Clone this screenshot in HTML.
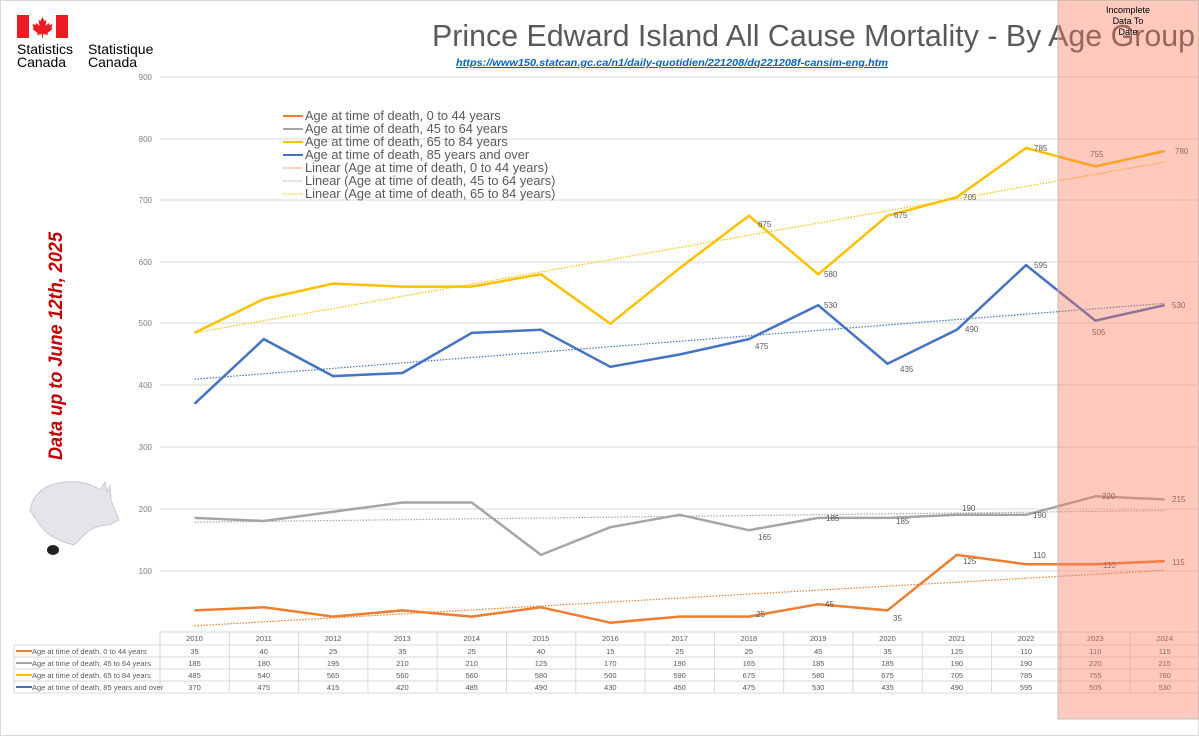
<!DOCTYPE html>
<html><head><meta charset="utf-8"><style>
html,body{margin:0;padding:0;background:#fff}
svg{display:block}
text{font-family:"Liberation Sans",sans-serif}
</style></head><body>
<svg width="1199" height="736" viewBox="0 0 1199 736" xmlns="http://www.w3.org/2000/svg">
<rect x="0.5" y="0.5" width="1198" height="735" fill="#fff" stroke="#d9d9d9"/>
<rect x="17" y="15" width="12" height="23" fill="#ed1c24"/>
<rect x="56" y="15" width="12" height="23" fill="#ed1c24"/>
<path d="M42.5 17 l2 4 2-1 -1 6 3-3 1 2 3-1 -1 4 1 1 -5 4 0.5 2 -5-1 v4 h-1 v-4 l-5 1 0.5-2 -5-4 1-1 -1-4 3 1 1-2 3 3 -1-6 2 1z" fill="#ed1c24"/>
<text x="17" y="54" font-size="14" fill="#000">Statistics</text>
<text x="17" y="67" font-size="14" fill="#000">Canada</text>
<text x="88" y="54" font-size="14" fill="#000">Statistique</text>
<text x="88" y="67" font-size="14" fill="#000">Canada</text>
<g stroke="#d9d9d9" stroke-width="1">
<line x1="160" y1="77" x2="1199" y2="77"/><line x1="160" y1="139" x2="1199" y2="139"/>
<line x1="160" y1="200" x2="1199" y2="200"/><line x1="160" y1="262" x2="1199" y2="262"/>
<line x1="160" y1="323" x2="1199" y2="323"/><line x1="160" y1="385" x2="1199" y2="385"/>
<line x1="160" y1="447" x2="1199" y2="447"/><line x1="160" y1="509" x2="1199" y2="509"/>
<line x1="160" y1="571" x2="1199" y2="571"/>
</g>
<g font-size="8" fill="#808080" text-anchor="end">
<text x="152" y="80">900</text><text x="152" y="142">800</text><text x="152" y="203">700</text>
<text x="152" y="265">600</text><text x="152" y="326">500</text><text x="152" y="388">400</text>
<text x="152" y="450">300</text><text x="152" y="512">200</text><text x="152" y="574">100</text>
</g>
<text x="432" y="46" font-size="31" fill="#595959" textLength="763" lengthAdjust="spacingAndGlyphs">Prince Edward Island All Cause Mortality - By Age Group</text>
<text x="456" y="66" font-size="10.5" font-weight="bold" font-style="italic" fill="#0563c1" text-decoration="underline" textLength="432" lengthAdjust="spacingAndGlyphs">https://www150.statcan.gc.ca/n1/daily-quotidien/221208/dq221208f-cansim-eng.htm</text>
<text transform="translate(62,460) rotate(-90)" font-size="19" font-weight="bold" font-style="italic" fill="#c00000" textLength="228" lengthAdjust="spacingAndGlyphs">Data up to June 12th, 2025</text>
<path d="M30 510 q5-25 35-28 q20-2 35 8 l5-8 2 10 l3-6 1 14 q4 10 8 20 l-10 5 q-15 0-25 10 l-10 10 q-20-5-30-15 q-8-10-14-20z" fill="#e4e4ea" stroke="#c9c9d0"/>
<ellipse cx="53" cy="550" rx="6" ry="5" fill="#222"/>
<g font-size="12.8" fill="#595959">
<line x1="283" y1="116" x2="303" y2="116" stroke="#ed7d31" stroke-width="2"/><text x="305" y="120">Age at time of death, 0 to 44 years</text>
<line x1="283" y1="129" x2="303" y2="129" stroke="#a5a5a5" stroke-width="2"/><text x="305" y="133">Age at time of death, 45 to 64 years</text>
<line x1="283" y1="142" x2="303" y2="142" stroke="#ffc000" stroke-width="2"/><text x="305" y="146">Age at time of death, 65 to 84 years</text>
<line x1="283" y1="155" x2="303" y2="155" stroke="#4472c4" stroke-width="2"/><text x="305" y="159">Age at time of death, 85 years and over</text>
<line x1="283" y1="168" x2="303" y2="168" stroke="#ed7d31" stroke-dasharray="1.5,1"/><text x="305" y="172">Linear (Age at time of death, 0 to 44 years)</text>
<line x1="283" y1="181" x2="303" y2="181" stroke="#a5a5a5" stroke-dasharray="1.5,1"/><text x="305" y="185">Linear (Age at time of death, 45 to 64 years)</text>
<line x1="283" y1="194" x2="303" y2="194" stroke="#ffc000" stroke-dasharray="1.5,1"/><text x="305" y="198">Linear (Age at time of death, 65 to 84 years)</text>
</g>
<g stroke-width="1.2" stroke-dasharray="1.5,1.5" fill="none">
<line x1="194.5" y1="625.8" x2="1164.7" y2="570.3" stroke="#ed7d31"/>
<line x1="194.5" y1="522.2" x2="1164.7" y2="510.5" stroke="#a5a5a5"/>
<line x1="194.5" y1="332.9" x2="1164.7" y2="162" stroke="#ffc000"/>
<line x1="194.5" y1="379.2" x2="1164.7" y2="303.3" stroke="#4472c4"/>
</g>
<g fill="none" stroke-width="2.5" stroke-linejoin="round">
<polyline stroke="#ed7d31" points="194.5,610.4 263.8,607.3 333.1,616.6 402.4,610.4 471.7,616.6 541,607.3 610.3,622.7 679.6,616.6 748.9,616.6 818.2,604.2 887.5,610.4 956.8,554.9 1026.1,564.2 1095.4,564.2 1164.7,561.1"/>
<polyline stroke="#a5a5a5" points="194.5,517.9 263.8,521 333.1,511.7 402.4,502.5 471.7,502.5 541,554.9 610.3,527.2 679.6,514.8 748.9,530.2 818.2,517.9 887.5,517.9 956.8,514.8 1026.1,514.8 1095.4,496.3 1164.7,499.4"/>
<polyline stroke="#ffc000" points="194.5,332.9 263.8,299 333.1,283.6 402.4,286.6 471.7,286.6 541,274.3 610.3,323.7 679.6,268.2 748.9,215.7 818.2,274.3 887.5,215.7 956.8,197.2 1026.1,147.9 1095.4,166.4 1164.7,151"/>
<polyline stroke="#4472c4" points="194.5,403.8 263.8,339.1 333.1,376.1 402.4,373 471.7,332.9 541,329.8 610.3,366.8 679.6,354.5 748.9,339.1 818.2,305.2 887.5,363.7 956.8,329.8 1026.1,265.1 1095.4,320.6 1164.7,305.2"/>
</g>
<g font-size="8" fill="#595959">
<text x="758" y="227">675</text><text x="824" y="277">580</text><text x="894" y="218">675</text>
<text x="963" y="200">705</text><text x="1034" y="151">785</text><text x="1090" y="157">755</text><text x="1175" y="154">780</text>
<text x="755" y="349">475</text><text x="824" y="308">530</text><text x="900" y="372">435</text><text x="965" y="332">490</text>
<text x="1034" y="268">595</text><text x="1092" y="335">505</text><text x="1172" y="308">530</text>
<text x="962" y="511">190</text><text x="1033" y="518">190</text><text x="1102" y="499">220</text><text x="1172" y="502">215</text>
<text x="758" y="540">165</text><text x="826" y="521">185</text><text x="896" y="524">185</text>
<text x="825" y="607">45</text><text x="756" y="617">25</text><text x="893" y="621">35</text>
<text x="963" y="564">125</text><text x="1033" y="558">110</text><text x="1103" y="568">110</text><text x="1172" y="565">115</text>
</g>
<g stroke="#d9d9d9" stroke-width="1" fill="none">
<rect x="160" y="632" width="1039" height="61"/>
<rect x="14" y="645" width="146" height="48"/>
<line x1="14" y1="657" x2="1199" y2="657"/><line x1="14" y1="669" x2="1199" y2="669"/>
<line x1="14" y1="681" x2="1199" y2="681"/><line x1="160" y1="645" x2="1199" y2="645"/>
<line x1="229.3" y1="632" x2="229.3" y2="693"/><line x1="298.6" y1="632" x2="298.6" y2="693"/>
<line x1="367.9" y1="632" x2="367.9" y2="693"/><line x1="437.2" y1="632" x2="437.2" y2="693"/>
<line x1="506.5" y1="632" x2="506.5" y2="693"/><line x1="575.8" y1="632" x2="575.8" y2="693"/>
<line x1="645.1" y1="632" x2="645.1" y2="693"/><line x1="714.4" y1="632" x2="714.4" y2="693"/>
<line x1="783.7" y1="632" x2="783.7" y2="693"/><line x1="853" y1="632" x2="853" y2="693"/>
<line x1="922.3" y1="632" x2="922.3" y2="693"/><line x1="991.6" y1="632" x2="991.6" y2="693"/>
<line x1="1060.9" y1="632" x2="1060.9" y2="693"/><line x1="1130.2" y1="632" x2="1130.2" y2="693"/>
</g>
<g stroke-width="2">
<line x1="16" y1="651" x2="32" y2="651" stroke="#ed7d31"/><line x1="16" y1="663" x2="32" y2="663" stroke="#a5a5a5"/>
<line x1="16" y1="675" x2="32" y2="675" stroke="#ffc000"/><line x1="16" y1="687" x2="32" y2="687" stroke="#4472c4"/>
</g>
<g font-size="7.5" fill="#595959">
<text x="32" y="654">Age at time of death, 0 to 44 years</text>
<text x="32" y="666">Age at time of death, 45 to 64 years</text>
<text x="32" y="678">Age at time of death, 65 to 84 years</text>
<text x="32" y="690">Age at time of death, 85 years and over</text>
</g>
<g font-size="7.5" fill="#595959" text-anchor="middle">
<text y="641"><tspan x="194.5">2010</tspan><tspan x="263.8">2011</tspan><tspan x="333.1">2012</tspan><tspan x="402.4">2013</tspan><tspan x="471.7">2014</tspan><tspan x="541">2015</tspan><tspan x="610.3">2016</tspan><tspan x="679.6">2017</tspan><tspan x="748.9">2018</tspan><tspan x="818.2">2019</tspan><tspan x="887.5">2020</tspan><tspan x="956.8">2021</tspan><tspan x="1026.1">2022</tspan><tspan x="1095.4">2023</tspan><tspan x="1164.7">2024</tspan></text>
<text y="654"><tspan x="194.5">35</tspan><tspan x="263.8">40</tspan><tspan x="333.1">25</tspan><tspan x="402.4">35</tspan><tspan x="471.7">25</tspan><tspan x="541">40</tspan><tspan x="610.3">15</tspan><tspan x="679.6">25</tspan><tspan x="748.9">25</tspan><tspan x="818.2">45</tspan><tspan x="887.5">35</tspan><tspan x="956.8">125</tspan><tspan x="1026.1">110</tspan><tspan x="1095.4">110</tspan><tspan x="1164.7">115</tspan></text>
<text y="666"><tspan x="194.5">185</tspan><tspan x="263.8">180</tspan><tspan x="333.1">195</tspan><tspan x="402.4">210</tspan><tspan x="471.7">210</tspan><tspan x="541">125</tspan><tspan x="610.3">170</tspan><tspan x="679.6">190</tspan><tspan x="748.9">165</tspan><tspan x="818.2">185</tspan><tspan x="887.5">185</tspan><tspan x="956.8">190</tspan><tspan x="1026.1">190</tspan><tspan x="1095.4">220</tspan><tspan x="1164.7">215</tspan></text>
<text y="678"><tspan x="194.5">485</tspan><tspan x="263.8">540</tspan><tspan x="333.1">565</tspan><tspan x="402.4">560</tspan><tspan x="471.7">560</tspan><tspan x="541">580</tspan><tspan x="610.3">500</tspan><tspan x="679.6">590</tspan><tspan x="748.9">675</tspan><tspan x="818.2">580</tspan><tspan x="887.5">675</tspan><tspan x="956.8">705</tspan><tspan x="1026.1">785</tspan><tspan x="1095.4">755</tspan><tspan x="1164.7">780</tspan></text>
<text y="690"><tspan x="194.5">370</tspan><tspan x="263.8">475</tspan><tspan x="333.1">415</tspan><tspan x="402.4">420</tspan><tspan x="471.7">485</tspan><tspan x="541">490</tspan><tspan x="610.3">430</tspan><tspan x="679.6">450</tspan><tspan x="748.9">475</tspan><tspan x="818.2">530</tspan><tspan x="887.5">435</tspan><tspan x="956.8">490</tspan><tspan x="1026.1">595</tspan><tspan x="1095.4">505</tspan><tspan x="1164.7">530</tspan></text>
</g>
<rect x="1058" y="0" width="141" height="719" fill="rgba(255,120,90,0.4)" stroke="#bfbfbf" stroke-width="1"/>
<g font-size="9" fill="#000" text-anchor="middle">
<text x="1128" y="13">Incomplete</text><text x="1128" y="24">Data To</text><text x="1128" y="35">Date</text>
</g>
</svg>
</body></html>
